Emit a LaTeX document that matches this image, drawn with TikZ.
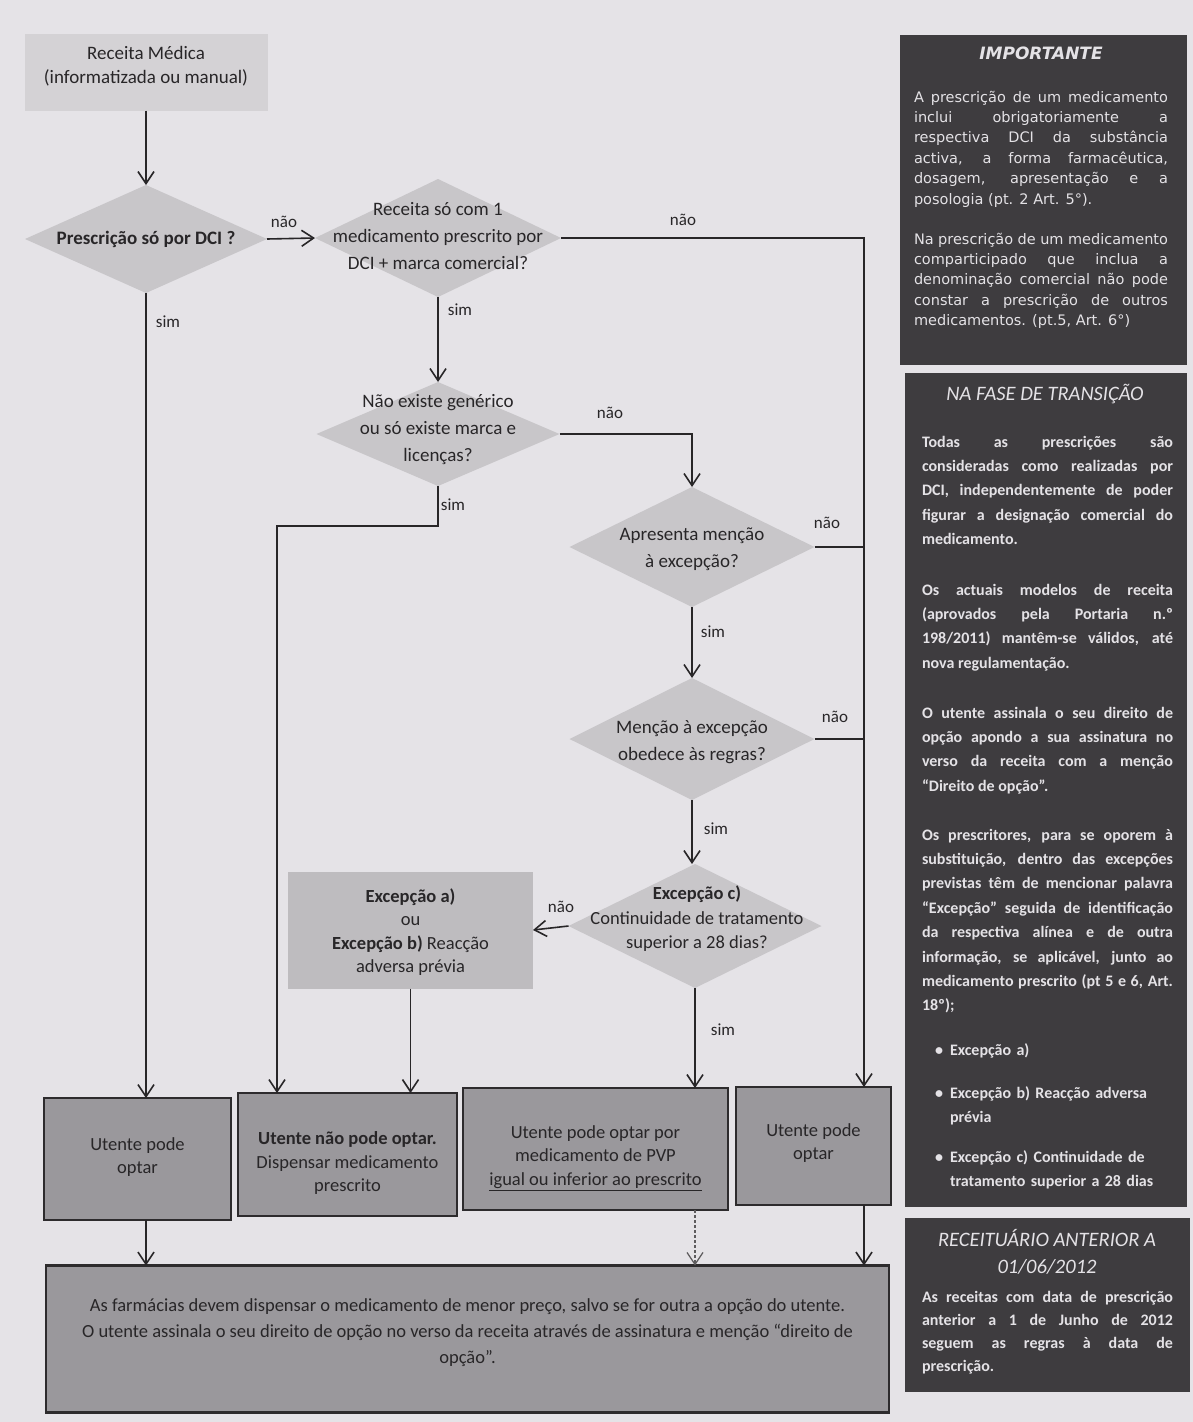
\documentclass[tikz,border=0pt]{standalone}
\usepackage{fontspec}
\setmainfont{Carlito}
\newfontfamily\tahoma{DejaVu Sans}
\usetikzlibrary{shapes.geometric,arrows.meta,calc}
\definecolor{bg}{RGB}{229,227,231}
\definecolor{startfill}{RGB}{212,210,213}
\definecolor{diafill}{RGB}{200,198,201}
\definecolor{excfill}{RGB}{190,188,191}
\definecolor{boxfill}{RGB}{154,152,156}
\definecolor{boxline}{RGB}{45,43,45}
\definecolor{panel}{RGB}{62,60,63}
\definecolor{ink}{RGB}{40,38,40}
\definecolor{paneltext}{RGB}{228,226,230}
\begin{document}
\begin{tikzpicture}[x=1pt,y=-1pt,
 every node/.style={inner sep=0pt,outer sep=0pt},
 ftext/.style={font=\fontsize{19}{27}\selectfont,text=ink,align=center},
 btext/.style={font=\fontsize{18.5}{23.5}\selectfont,text=ink,align=center},
 dia/.style={diamond,fill=diafill,draw=none},
 arr/.style={draw=ink,line width=1.6pt,-{Straight Barb[length=12pt,width=16pt]}},
 ln/.style={draw=ink,line width=1.6pt},
 lab/.style={font=\fontsize{17}{20}\selectfont,text=ink},
 outbox/.style={rectangle,fill=boxfill,draw=boxline,line width=2.6pt},
 panelbox/.style={rectangle,fill=panel,anchor=north west},
 ptxt/.style={font=\bfseries\fontsize{16}{24.4}\selectfont,text=paneltext,align=justify,text width=251pt,anchor=base west},
 itxt/.style={font=\tahoma\fontsize{14.5}{20.4}\selectfont,text=paneltext,align=justify,text width=254pt,anchor=base west},
 ptitle/.style={font=\itshape\fontsize{20.5}{27}\selectfont,text=paneltext,align=center},
 bul/.style={font=\bfseries\fontsize{16}{24.4}\selectfont,text=paneltext,align=left,text width=225pt,anchor=base west}
]
\fill[bg] (0,0) rectangle (1193,1422);
\useasboundingbox (0,0) rectangle (1193,1422);

\coordinate (rx) at (864,0);
\coordinate (lx) at (277,0);

% start
\node[fill=startfill,minimum width=243pt,minimum height=77pt] (start) at (146,72) {};
\node[ftext,font=\fontsize{19}{24}\selectfont] (starttxt) at (146,66) {Receita Médica\\(informatizada ou manual)};

% diamonds
\node[dia,minimum width=242pt,minimum height=108pt] (d1) at (146,239) {};
\node[ftext,font=\bfseries\fontsize{19}{27}\selectfont] (d1t) at (d1) {Prescrição só por DCI ?};

\node[dia,minimum width=246pt,minimum height=118pt] (d2) at (438,238) {};
\node[ftext] (d2t) at (438,236) {Receita só com 1\\medicamento prescrito por\\DCI + marca comercial?};

\node[dia,minimum width=243pt,minimum height=104pt] (d3) at (438,434) {};
\node[ftext] (d3t) at (438,430) {Não existe genérico\\ou só existe marca e\\licenças?};

\node[dia,minimum width=245pt,minimum height=120pt] (d4) at (692,547) {};
\node[ftext] (d4t) at (692,549) {Apresenta menção\\à excepção?};

\node[dia,minimum width=245pt,minimum height=122pt] (d5) at (692,739) {};
\node[ftext] (d5t) at (692,742) {Menção à excepção\\obedece às regras?};

\node[dia,minimum width=253pt,minimum height=124pt] (d6) at (695,926) {};
\node[ftext,font=\fontsize{18.5}{24.5}\selectfont] (d6t) at (697,919) {\textbf{Excepção c)}\\Continuidade de tratamento\\superior a 28 dias?};

% exception box
\node[fill=excfill,minimum width=245pt,minimum height=117pt] (exc) at (410.5,930) {};
\node[btext] (exct) at (410.5,932) {\textbf{Excepção a)}\\ou\\\textbf{Excepção b)} Reacção\\adversa prévia};

% result boxes
\node[outbox,minimum width=187pt,minimum height=122pt] (b1) at (137.5,1159) {};
\node[btext] (b1t) at (137.5,1157) {Utente pode\\optar};
\node[outbox,minimum width=219pt,minimum height=123pt] (b2) at (347.5,1154.5) {};
\node[btext] (b2t) at (347.5,1163) {\textbf{Utente não pode optar.}\\Dispensar medicamento\\prescrito};
\node[outbox,minimum width=265pt,minimum height=122pt] (b3) at (595.5,1149) {};
\node[btext] (b3t) at (595.5,1158) {Utente pode optar por\\medicamento de PVP\\\underline{igual ou inferior ao prescrito}};
\node[outbox,minimum width=155pt,minimum height=118pt] (b4) at (813.5,1146) {};
\node[btext] (b4t) at (813.5,1143) {Utente pode\\optar};

\node[outbox,minimum width=843pt,minimum height=147pt] (bot) at (467.5,1339) {};
\node[btext,font=\fontsize{18.5}{26}\selectfont] (bott) at (467.5,1333) {As farmácias devem dispensar o medicamento de menor preço, salvo se for outra a opção do utente.\\O utente assinala o seu direito de opção no verso da receita através de assinatura e menção “direito de\\opção”.};

% connectors
\draw[arr] (start.south) -- (d1.north);
\draw[arr] (d1.east) -- (d2.west);
\draw[arr] (d2.east) -| (b4.north -| rx);
\draw[arr] (d2.south) -- (d3.north);
\draw[arr] (d3.east) -| (d4.north);
\draw[arr] (d3.south) -- ++(0,40) -| (b2.north -| lx);
\draw[ln] (d4.east) -- (d4.east -| rx);
\draw[arr] (d4.south) -- (d5.north);
\draw[ln] (d5.east) -- (d5.east -| rx);
\draw[arr] (d5.south) -- (d5.south |- d6.north);
\draw[arr] (d6.west) -- (exc.east);
\draw[arr] (d6.south) -- (d6.south |- b3.north);
\draw[arr] (exc.south) -- (exc.south |- b2.north);
\draw[arr] (d1.south) -- (d1.south |- b1.north);
\draw[arr] (d1.south |- b1.south) -- (d1.south |- bot.north);
\draw[arr,draw=ink!75,line width=1.2pt,dash pattern=on 3pt off 2pt] (d6.south |- b3.south) -- (d6.south |- bot.north);
\draw[arr] (rx |- b4.south) -- (rx |- bot.north);

% labels
\node[lab] (l1) at (284,222) {não};
\node[lab] (l2) at (683,220) {não};
\node[lab] (l3) at (168,322) {sim};
\node[lab] (l4) at (460,310) {sim};
\node[lab] (l5) at (610,413) {não};
\node[lab] (l6) at (453,505) {sim};
\node[lab] (l7) at (827,523) {não};
\node[lab] (l8) at (713,632) {sim};
\node[lab] (l9) at (835,717) {não};
\node[lab] (l10) at (716,829) {sim};
\node[lab] (l11) at (561,907) {não};
\node[lab] (l12) at (723,1030) {sim};

% right panel: IMPORTANTE
\node[panelbox,minimum width=287pt,minimum height=330pt] (imp) at (900,35) {};
\node[font=\tahoma\bfseries\itshape\fontsize{17}{22}\selectfont,text=paneltext] (impt) at (1041,53) {IMPORTANTE};
\node[itxt] (impa) at (914,102) {A prescrição de um medicamento\linebreak inclui obrigatoriamente a\linebreak respectiva DCI da substância\linebreak activa, a forma farmacêutica,\linebreak dosagem, apresentação e a\linebreak posologia (pt. 2 Art. 5°).};
\node[itxt] (impb) at (914,244) {Na prescrição de um medicamento\linebreak comparticipado que inclua a\linebreak denominação comercial não pode\linebreak constar a prescrição de outros\linebreak medicamentos. (pt.5, Art. 6°)};

% right panel: NA FASE DE TRANSIÇÃO
\node[panelbox,minimum width=282pt,minimum height=834pt] (fase) at (905,373) {};
\node[ptitle] (faset) at (1045,394) {NA FASE DE TRANSIÇÃO};
\node[ptxt] (fasea) at (922,447) {Todas as prescrições são\linebreak consideradas como realizadas por\linebreak DCI, independentemente de poder\linebreak figurar a designação comercial do\linebreak medicamento.};
\node[ptxt] (faseb) at (922,595) {Os actuais modelos de receita\linebreak (aprovados pela Portaria n.º\linebreak 198/2011) mantêm-se válidos, até\linebreak nova regulamentação.};
\node[ptxt] (fasec) at (922,718) {O utente assinala o seu direito de\linebreak opção apondo a sua assinatura no\linebreak verso da receita com a menção\linebreak “Direito de opção”.};
\node[ptxt] (fased) at (922,840) {Os prescritores, para se oporem à\linebreak substituição, dentro das excepções\linebreak previstas têm de mencionar palavra\linebreak “Excepção” seguida de identificação\linebreak da respectiva alínea e de outra\linebreak informação, se aplicável, junto ao\linebreak medicamento prescrito (pt 5 e 6, Art.\linebreak 18º);};
\node[bul,text width=12pt] (bu1) at (935,1055) {•};
\node[bul] (bt1) at (950,1055) {Excepção a)};
\node[bul,text width=12pt] (bu2) at (935,1098) {•};
\node[bul] (bt2) at (950,1098) {Excepção b) Reacção adversa\\prévia};
\node[bul,text width=12pt] (bu3) at (935,1162) {•};
\node[bul] (bt3) at (950,1162) {Excepção c) Continuidade de\\tratamento superior a 28 dias};

% right panel: RECEITUARIO
\node[panelbox,minimum width=285pt,minimum height=174pt] (rec) at (905,1218) {};
\node[ptitle] (rect) at (1047,1252) {RECEITUÁRIO ANTERIOR A\\01/06/2012};
\node[ptxt,font=\bfseries\fontsize{16}{23.3}\selectfont] (reca) at (922,1302) {As receitas com data de prescrição\linebreak anterior a 1 de Junho de 2012\linebreak seguem as regras à data de\linebreak prescrição.};
\end{tikzpicture}
\end{document}
